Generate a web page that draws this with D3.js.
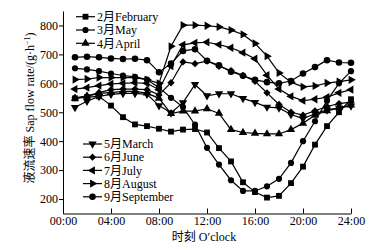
<!DOCTYPE html>
<html>
<head>
<meta charset="utf-8">
<script src="https://cdn.jsdelivr.net/npm/d3@7"></script>
<style>
  body { margin: 0; background: #fff; }
  svg { display: block; }
  text { font-family: "Liberation Serif", "Noto Sans CJK SC", serif; fill: #000; }
</style>
</head>
<body>
<svg id="chart" width="390" height="250"></svg>
<script>
// hourly readings, 01:00 .. 24:00
const hours = [1, 2, 3, 4, 5, 6, 7, 8, 9, 10, 11, 12, 13, 14, 15, 16, 17, 18, 19, 20, 21, 22, 23, 24];

const febValues = [548, 552, 555, 523, 483, 458, 452, 443, 433, 440, 442, 430, 376, 330, 258, 224, 205, 211, 255, 312, 388, 452, 500, 545];
const marValues = [652, 648, 642, 634, 627, 622, 613, 585, 550, 518, 457, 377, 319, 265, 228, 228, 244, 270, 325, 400, 469, 540, 600, 642];
const aprValues = [548, 556, 565, 568, 572, 572, 566, 548, 495, 504, 504, 512, 496, 440, 430, 427, 425, 425, 440, 462, 490, 505, 515, 525];
const mayValues = [517, 538, 555, 562, 565, 565, 562, 523, 498, 533, 596, 557, 564, 564, 548, 534, 518, 515, 492, 478, 495, 508, 515, 522];
const junValues = [550, 556, 568, 578, 580, 580, 578, 560, 602, 674, 668, 677, 659, 644, 627, 607, 567, 527, 500, 490, 505, 520, 530, 535];
const julValues = [580, 585, 592, 598, 600, 602, 600, 578, 660, 733, 740, 742, 734, 723, 706, 685, 628, 580, 555, 540, 545, 552, 567, 578];
const augValues = [613, 615, 620, 620, 620, 620, 613, 600, 728, 801, 801, 799, 795, 784, 769, 738, 694, 636, 604, 588, 591, 601, 606, 612];
const sepValues = [690, 692, 690, 686, 684, 685, 680, 638, 668, 712, 718, 678, 662, 640, 626, 612, 604, 600, 608, 634, 656, 680, 672, 671];

const seriesNames = ['2月February', '3月May', '4月April', '5月March', '6月June', '7月July', '8月August', '9月September'];
const seriesValues = [febValues, marValues, aprValues, mayValues, junValues, julValues, augValues, sepValues];

const xTicks = [0, 4, 8, 12, 16, 20, 24];
const xTickLabels = ['00:00', '04:00', '08:00', '12:00', '16:00', '20:00', '24:00'];
const yTicks = [200, 300, 400, 500, 600, 700, 800];

// marker per series: symbol type + rotation
const diamond = d3.symbolDiamond2 || d3.symbolDiamond;
const markers = [
    { type: d3.symbolSquare, size: 34, rot: 0 },
    { type: d3.symbolCircle, size: 30, rot: 0 },
    { type: d3.symbolTriangle, size: 30, rot: 0 },
    { type: d3.symbolTriangle, size: 30, rot: 180 },
    { type: diamond, size: 34, rot: 0 },
    { type: d3.symbolTriangle, size: 30, rot: -90 },
    { type: d3.symbolTriangle, size: 30, rot: 90 },
    { type: d3.symbolCircle, size: 34, rot: 0 }
];

const svg = d3.select('#chart');

const x = d3.scaleLinear().domain([0, 24]).range([63, 351]);
const y = d3.scaleLinear().domain([150, 850]).range([213.5, 11]);

// axes
svg.append('g')
    .attr('transform', `translate(0,${y(150)})`)
    .call(d3.axisBottom(x)
        .tickValues(xTicks)
        .tickFormat((d, i) => xTickLabels[i])
        .tickSizeInner(-5)
        .tickSizeOuter(0)
        .tickPadding(3))
    .call(g => g.selectAll('text').style('font-size', '12px'));

svg.append('g')
    .attr('transform', `translate(${x(0)},0)`)
    .call(d3.axisLeft(y)
        .tickValues(yTicks)
        .tickSizeInner(4)
        .tickSizeOuter(0)
        .tickPadding(1))
    .call(g => g.selectAll('text').style('font-size', '12px'));

svg.selectAll('.domain, .tick line').attr('stroke', '#000').attr('stroke-width', 1);

// axis titles
const yTitle = svg.append('text')
    .attr('transform', 'translate(34,108) rotate(-90)')
    .attr('text-anchor', 'middle')
    .style('font-size', '12px');
yTitle.append('tspan').text('液流速率 Sap flow rate/(g·h');
yTitle.append('tspan').attr('dy', -4).style('font-size', '8px').text('−1');
yTitle.append('tspan').attr('dy', 4).text(')');

svg.append('text')
    .attr('x', 204).attr('y', 241)
    .attr('text-anchor', 'middle')
    .style('font-size', '12px')
    .text('时刻 O′clock');

// lines + markers
const line = d3.line()
    .x((d, i) => x(hours[i]))
    .y(d => y(d));

function symbolPath(m) {
    return d3.symbol().type(m.type).size(m.size)();
}

seriesValues.forEach((vals, s) => {
    const m = markers[s];
    svg.append('path')
        .datum(vals)
        .attr('d', line)
        .attr('fill', 'none')
        .attr('stroke', '#000')
        .attr('stroke-width', 1.2);

    svg.append('g').selectAll('path')
        .data(vals)
        .join('path')
        .attr('d', symbolPath(m))
        .attr('transform', (d, i) => `translate(${x(hours[i])},${y(d)}) rotate(${m.rot})`)
        .attr('fill', '#000');
});

// legends (two blocks)
function legendRow(s, lx, ly) {
    const m = markers[s];
    const g = svg.append('g').attr('transform', `translate(${lx},${ly})`);
    g.append('line')
        .attr('x1', 0).attr('x2', 19)
        .attr('stroke', '#000').attr('stroke-width', 1.2);
    g.append('path')
        .attr('d', symbolPath(m))
        .attr('transform', `translate(9.5,0) rotate(${m.rot})`)
        .attr('fill', '#000');
    g.append('text')
        .attr('x', 21).attr('dy', '0.35em')
        .style('font-size', '12px')
        .text(seriesNames[s]);
}

[0, 1, 2].forEach((s, i) => legendRow(s, 76, 16.7 + i * 13.3));
[3, 4, 5, 6, 7].forEach((s, i) => legendRow(s, 83, 144 + i * 13.2));
</script>
</body>
</html>
